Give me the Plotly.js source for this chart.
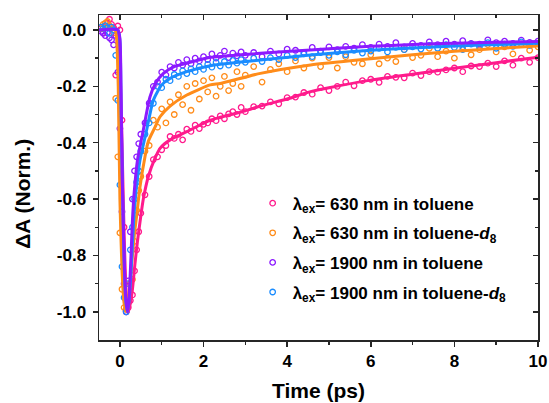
<!DOCTYPE html>
<html>
<head>
<meta charset="utf-8">
<script src="https://cdn.plot.ly/plotly-3.0.1.min.js"></script>
<style>html,body{margin:0;padding:0;background:#fff;}#chart{width:549px;height:403px;}</style>
</head>
<body>
<div id="chart"></div>
<script>
// ---- Data ----
const time = [-0.45,-0.4,-0.35,-0.3,-0.25,-0.2,-0.15,-0.1,-0.05,0,
  0.05,0.1,0.15,0.2,0.25,0.3,0.35,0.4,0.45,0.5,
  0.6,0.7,0.8,0.9,1.0,1.1,1.2,1.3,1.4,1.5,1.6,1.7,1.8,1.9,2.0,
  2.1,2.2,2.3,2.4,2.5,2.6,2.7,2.8,2.9,3.0,
  3.2,3.4,3.6,3.8,4.0,4.2,4.4,4.6,4.8,5.0,
  5.2,5.4,5.6,5.8,6.0,6.2,6.4,6.6,6.8,7.0,
  7.2,7.4,7.6,7.8,8.0,8.2,8.4,8.6,8.8,9.0,
  9.2,9.4,9.6,9.8,10.0];

const tol630 = [0.005,-0.01,0.012,0.025,0.038,0.02,0.008,-0.16,0.014,0.0,
  -0.32,-0.7,-1.0,-0.985,-0.96,-0.94,-0.855,-0.78,-0.716,-0.65,
  -0.585,-0.52,-0.46,-0.45,-0.425,-0.41,-0.378,-0.385,-0.37,-0.39,-0.352,-0.36,-0.338,-0.35,-0.335,
  -0.33,-0.315,-0.322,-0.305,-0.315,-0.298,-0.29,-0.3,-0.275,-0.29,
  -0.272,-0.27,-0.255,-0.262,-0.24,-0.238,-0.222,-0.228,-0.205,-0.215,
  -0.2,-0.185,-0.198,-0.18,-0.175,-0.186,-0.165,-0.168,-0.17,-0.153,
  -0.162,-0.148,-0.15,-0.142,-0.135,-0.148,-0.128,-0.13,-0.118,-0.13,
  -0.11,-0.125,-0.1,-0.115,-0.098];

const tolD630 = [0.01,0.02,0.024,0.03,0.015,0.005,-0.01,-0.243,-0.45,-0.72,
  -0.92,-0.985,-0.99,-0.95,-0.9,-0.885,-0.75,-0.64,-0.57,-0.52,
  -0.43,-0.41,-0.32,-0.345,-0.28,-0.33,-0.255,-0.3,-0.23,-0.265,-0.2,-0.285,-0.19,-0.245,-0.18,
  -0.22,-0.17,-0.235,-0.2,-0.165,-0.215,-0.19,-0.148,-0.2,-0.16,
  -0.13,-0.185,-0.14,-0.12,-0.148,-0.11,-0.135,-0.1,-0.13,-0.098,
  -0.135,-0.095,-0.115,-0.12,-0.088,-0.12,-0.1,-0.112,-0.07,-0.098,
  -0.09,-0.065,-0.095,-0.075,-0.1,-0.06,-0.088,-0.07,-0.052,-0.078,
  -0.06,-0.085,-0.05,-0.072,-0.06];

const tol1900 = [-0.005,-0.012,-0.02,-0.01,-0.028,-0.035,-0.053,-0.02,-0.15,-0.35,
  -0.645,-0.9,-1.0,-0.89,-0.716,-0.6,-0.5,-0.45,-0.403,-0.37,
  -0.33,-0.26,-0.2,-0.185,-0.15,-0.16,-0.13,-0.135,-0.115,-0.125,-0.105,-0.12,-0.1,-0.11,-0.095,
  -0.105,-0.085,-0.1,-0.09,-0.075,-0.098,-0.082,-0.092,-0.078,-0.09,
  -0.08,-0.095,-0.075,-0.085,-0.068,-0.072,-0.08,-0.062,-0.075,-0.06,
  -0.07,-0.058,-0.065,-0.052,-0.062,-0.05,-0.058,-0.045,-0.06,-0.048,
  -0.055,-0.042,-0.052,-0.04,-0.05,-0.038,-0.048,-0.05,-0.035,-0.045,
  -0.04,-0.048,-0.036,-0.044,-0.04];

const tolD1900 = [0.01,0.005,0.015,0.008,-0.012,0.01,0.0,-0.09,-0.25,-0.55,
  -0.84,-0.95,-1.0,-0.9,-0.78,-0.7,-0.6,-0.54,-0.5,-0.43,
  -0.37,-0.33,-0.26,-0.2,-0.205,-0.175,-0.18,-0.158,-0.165,-0.145,-0.155,-0.138,-0.148,-0.13,-0.14,
  -0.122,-0.132,-0.115,-0.128,-0.112,-0.125,-0.108,-0.118,-0.105,-0.115,
  -0.1,-0.112,-0.098,-0.105,-0.09,-0.098,-0.085,-0.095,-0.08,-0.09,
  -0.078,-0.088,-0.072,-0.082,-0.075,-0.065,-0.078,-0.062,-0.07,-0.06,
  -0.068,-0.055,-0.065,-0.052,-0.062,-0.07,-0.05,-0.06,-0.045,-0.065,
  -0.05,-0.058,-0.042,-0.055,-0.048];

// fitted curves
const fit630X = [-0.5,-0.1,-0.05,0,0.05,0.1,0.15,0.2,0.25,0.3,0.36,0.42,0.5,0.56,0.68,0.84,0.96,1.2,1.6,2.16,2.4,3.0,3.36,4.0,4.56,5.0,6.0,7.0,8.0,9.0,10.0];
const fit630Y = [0,0,-0.02,-0.12,-0.4,-0.72,-0.93,-1.0,-0.97,-0.92,-0.83,-0.75,-0.66,-0.6,-0.52,-0.455,-0.42,-0.39,-0.361,-0.32,-0.31,-0.287,-0.27,-0.245,-0.219,-0.205,-0.178,-0.157,-0.136,-0.116,-0.097];

const fitD630X = [-0.5,-0.12,-0.08,-0.04,0,0.05,0.1,0.15,0.2,0.25,0.3,0.35,0.4,0.48,0.6,0.68,0.84,0.96,1.2,1.6,2.16,2.4,3.36,4.56,6,7,8,9,10];
const fitD630Y = [0,0,-0.03,-0.2,-0.6,-0.85,-0.97,-1.0,-0.96,-0.88,-0.8,-0.72,-0.66,-0.557,-0.45,-0.395,-0.345,-0.308,-0.27,-0.231,-0.195,-0.19,-0.154,-0.124,-0.102,-0.088,-0.076,-0.066,-0.057];

const fit1900X = [-0.5,-0.05,0,0.03,0.06,0.1,0.14,0.18,0.22,0.26,0.3,0.34,0.42,0.56,0.72,0.85,1.04,1.3,1.6,2.16,2.4,3.36,4.56,6,7,8,9,10];
const fit1900Y = [0,0,-0.03,-0.25,-0.55,-0.8,-0.95,-1.0,-0.95,-0.82,-0.675,-0.58,-0.462,-0.355,-0.237,-0.19,-0.154,-0.13,-0.118,-0.097,-0.094,-0.083,-0.071,-0.058,-0.052,-0.047,-0.044,-0.041];

const fitD1900X = [-0.5,-0.05,0,0.03,0.07,0.1,0.14,0.18,0.22,0.27,0.33,0.38,0.48,0.64,0.8,1.0,1.2,1.6,2.16,2.4,3.36,4.56,6,7,8,9,10];
const fitD1900Y = [0,0,-0.04,-0.3,-0.62,-0.82,-0.96,-1.0,-0.96,-0.85,-0.675,-0.58,-0.462,-0.355,-0.249,-0.195,-0.172,-0.148,-0.127,-0.122,-0.107,-0.089,-0.072,-0.064,-0.057,-0.052,-0.047];

const seriesNames = [
  "λ<sub>ex</sub>= 630 nm in toluene",
  "λ<sub>ex</sub>= 630 nm in toluene-<i>d</i><sub>8</sub>",
  "λ<sub>ex</sub>= 1900 nm in toluene",
  "λ<sub>ex</sub>= 1900 nm in toluene-<i>d</i><sub>8</sub>"
];
const xTitle = "Time (ps)";
const yTitle = "ΔA (Norm.)";
const xTickVals = [0,2,4,6,8,10];
const xTickText = ["0","2","4","6","8","10"];
const xMinorVals = [1,3,5,7,9];
const yTickVals = [0,-0.2,-0.4,-0.6,-0.8,-1.0];
const yTickText = ["0.0","-0.2","-0.4","-0.6","-0.8","-1.0"];
const yMinorVals = [-0.1,-0.3,-0.5,-0.7,-0.9];

// ---- styling ----
const colors = ["#ff1a8c","#ff8c1a","#8c1aff","#1a8cff"];
const FONT = "Liberation Sans, Arial, sans-serif";
const AX = "#262626";

const dataSets = [tol630, tolD630, tol1900, tolD1900];
const fits = [[fit630X,fit630Y],[fitD630X,fitD630Y],[fit1900X,fit1900Y],[fitD1900X,fitD1900Y]];

const traces = [];
dataSets.forEach((ys,i)=>{
  traces.push({
    x: time, y: ys, type:'scatter', mode:'markers', name: seriesNames[i], legendgroup:'g'+i,
    marker:{symbol:'circle-open', size:5.5, color:colors[i], line:{width:1.3, color:colors[i]}},
    hoverinfo:'skip'
  });
});
[0,1,3,2].forEach(i=>{
  traces.push({
    x: fits[i][0], y: fits[i][1], type:'scatter', mode:'lines', showlegend:false,
    line:{color:colors[i], width:3, shape:'spline', smoothing:0.6}, hoverinfo:'skip'
  });
});
// dummy trace for the mirrored (top/right) axes
traces.push({x:[null], y:[null], xaxis:'x2', yaxis:'y2', type:'scatter', mode:'markers', showlegend:false, hoverinfo:'skip'});

const layout = {
  width:549, height:403,
  margin:{l:99, r:11, t:15, b:63},
  paper_bgcolor:'#ffffff', plot_bgcolor:'#ffffff',
  font:{family:FONT, color:'#000', size:17, weight:'bold'},
  showlegend:true,
  legend:{x:0.35, y:0.475, xanchor:'left', yanchor:'top', bgcolor:'rgba(0,0,0,0)',
    traceorder:'grouped', tracegroupgap:4.5,
    font:{family:FONT, size:17, color:'#000', weight:'bold'}, itemwidth:30},
  annotations:[{
    text:yTitle, xref:'paper', yref:'paper', x:-0.173, y:0.45, xanchor:'center', yanchor:'middle',
    textangle:-90, showarrow:false, font:{family:FONT, size:21, color:'#000', weight:'bold'}
  }],
  xaxis:{
    range:[-0.5,10], tickmode:'array', tickvals:xTickVals, ticktext:xTickText,
    ticks:'outside', ticklen:5, tickwidth:1.5, tickcolor:AX,
    minor:{tickmode:'array', tickvals:xMinorVals, ticks:'outside', ticklen:3, tickwidth:1.5, tickcolor:AX},
    showline:true, linecolor:AX, linewidth:1.5, showgrid:false, zeroline:false,
    tickfont:{family:FONT, size:17, color:'#000', weight:'bold'},
    title:{text:xTitle, font:{family:FONT, size:21, color:'#000', weight:'bold'}, standoff:13}
  },
  yaxis:{
    range:[-1.1,0.053], tickmode:'array', tickvals:yTickVals, ticktext:yTickText,
    ticks:'outside', ticklen:5, tickwidth:1.5, tickcolor:AX, ticklabelstandoff:3,
    minor:{tickmode:'array', tickvals:yMinorVals, ticks:'outside', ticklen:3, tickwidth:1.5, tickcolor:AX},
    showline:true, linecolor:AX, linewidth:1.5, showgrid:false, zeroline:false,
    tickfont:{family:FONT, size:17, color:'#000', weight:'bold'}
  },
  xaxis2:{
    range:[-0.5,10], overlaying:'x', side:'top', anchor:'y2', tickmode:'array', tickvals:xTickVals,
    showticklabels:false, ticks:'inside', ticklen:5, tickwidth:1.5, tickcolor:AX,
    minor:{tickmode:'array', tickvals:xMinorVals, ticks:'inside', ticklen:3, tickwidth:1.5, tickcolor:AX},
    showline:true, linecolor:AX, linewidth:1.5, showgrid:false, zeroline:false
  },
  yaxis2:{
    range:[-1.1,0.053], overlaying:'y', side:'right', anchor:'x2', tickmode:'array', tickvals:yTickVals,
    showticklabels:false, ticks:'inside', ticklen:5, tickwidth:1.5, tickcolor:AX,
    minor:{tickmode:'array', tickvals:yMinorVals, ticks:'inside', ticklen:3, tickwidth:1.5, tickcolor:AX},
    showline:true, linecolor:AX, linewidth:1.5, showgrid:false, zeroline:false
  }
};

Plotly.newPlot('chart', traces, layout, {staticPlot:true, displayModeBar:false});
</script>
</body>
</html>
